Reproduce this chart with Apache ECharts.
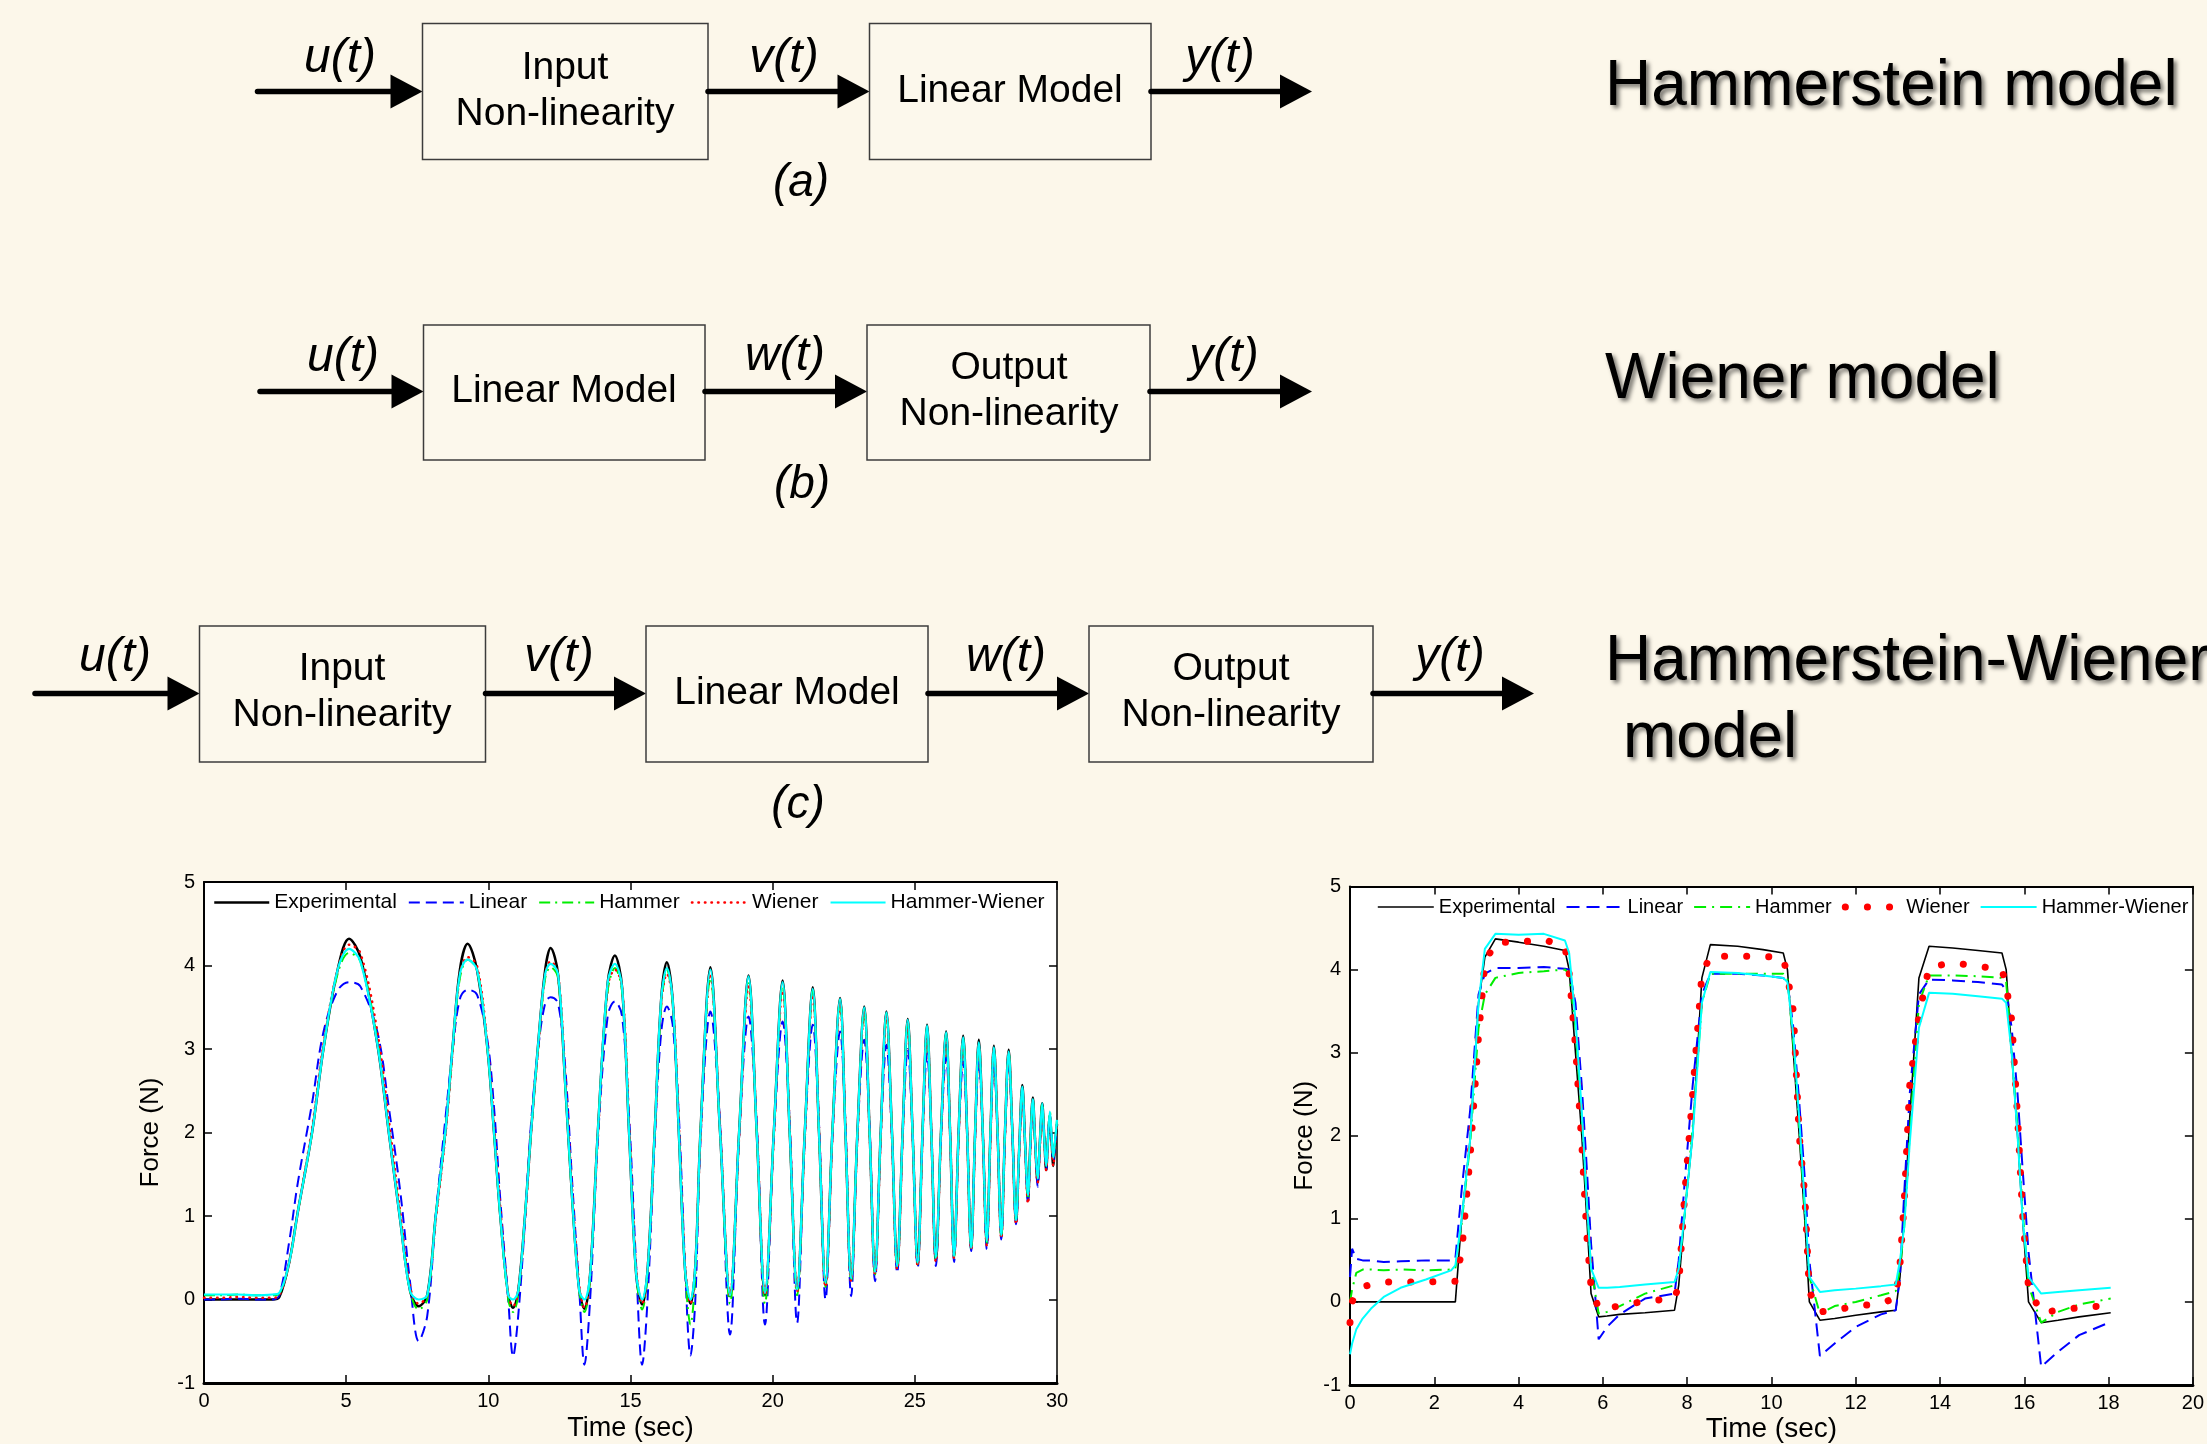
<!DOCTYPE html>
<html><head><meta charset="utf-8">
<script src="https://cdn.jsdelivr.net/npm/echarts@6/dist/echarts.min.js"></script>
<style>html,body{margin:0;padding:0;background:#fcf7ea;}#c{width:2207px;height:1444px;}</style>
</head><body><div id="c"></div>
<script>
// ---------------- DATA ----------------
const NAMES = ['Experimental','Linear','Hammer','Wiener','Hammer-Wiener'];
const L_XTICKS = [0, 30, 5];
const R_XTICKS = [0, 20, 2];
const Y_TICKS = [-1, 5, 1];

// Left chart (chirp response)
const L_T = [0,0.6,1.2,1.8,2.4,2.65,3.0,3.3,3.8,4.2,
  4.7,5.1,5.5,6.1,6.5,6.9,7.25,7.55,7.85,8.15,
  8.5,8.75,9.0,9.27,9.6,9.97,10.2,10.42,10.7,10.87,
  11.05,11.3,11.5,11.75,12.0,12.19,12.45,12.7,12.95,13.2,
  13.38,13.58,13.85,14.2,14.45,14.7,14.95,15.2,15.41,15.6,
  15.85,16.08,16.28,16.48,16.7,16.92,17.11,17.28,17.46,17.81,
  18.15,18.5,18.82,19.15,19.44,19.73,20.04,20.35,20.6,20.86,
  21.13,21.41,21.63,21.86,22.1,22.37,22.56,22.76,22.98,23.22,
  23.41,23.6,23.8,24.0,24.19,24.38,24.57,24.75,24.92,25.1,
  25.27,25.43,25.58,25.74,25.92,26.1,26.24,26.38,26.54,26.7,
  26.84,26.98,27.12,27.25,27.39,27.53,27.66,27.78,27.91,28.04,
  28.17,28.3,28.43,28.56,28.67,28.78,28.88,28.98,29.06,29.15,
  29.23,29.32,29.4,29.48,29.55,29.62,29.68,29.75,29.81,29.87,29.93,30];
const L_EXP = [0,0,0,0,0,0.03,0.45,1.05,2.0,3.0,
  3.95,4.32,4.1,3.05,2.0,0.95,0.1,-0.08,0.05,1.0,
  2.05,3.05,3.95,4.26,3.95,3.0,2.0,1.0,0.05,-0.1,
  0.1,1.05,2.0,3.05,3.95,4.21,3.9,2.6,1.2,0.1,
  -0.11,0.3,2.0,3.8,4.12,3.75,2.0,0.3,-0.06,0.35,
  2.0,3.6,4.04,3.6,2.0,0.35,-0.05,0.4,2.0,3.98,
  2.0,0.04,2.0,3.88,2.0,0.05,2.0,3.82,2.0,0.12,
  2.0,3.74,2.0,0.18,2.0,3.61,2.0,0.24,2.0,3.51,
  2.0,0.31,2.0,3.45,2.05,0.38,2.0,3.36,2.0,0.42,
  2.0,3.29,2.0,0.46,2.0,3.21,2.0,0.51,2.0,3.16,
  2.0,0.6,2.0,3.11,2.0,0.67,2.0,3.04,2.0,0.75,
  2.0,2.99,2.0,0.92,1.8,2.57,1.85,1.2,1.85,2.42,
  1.9,1.4,1.9,2.35,1.95,1.55,1.9,2.2,1.9,1.6,1.85,2.1];
const L_LIN = [0,0,0.01,0,0,0.05,0.7,1.4,2.35,3.2,
  3.7,3.8,3.75,3.2,2.3,1.3,0.2,-0.5,-0.2,1.0,
  2.2,3.0,3.6,3.71,3.65,3.1,2.3,1.2,0.0,-0.68,
  -0.2,1.0,2.1,3.0,3.55,3.62,3.55,2.8,1.4,0.1,
  -0.78,0.0,1.9,3.4,3.57,3.4,2.2,0.4,-0.78,0.0,
  1.9,3.2,3.51,3.3,2.2,0.4,-0.67,0.0,1.9,3.45,
  2.1,-0.42,1.95,3.39,2.1,-0.3,1.95,3.33,2.1,-0.28,
  1.95,3.29,2.1,0.0,1.95,3.21,2.1,0.04,1.95,3.11,
  2.05,0.22,1.95,3.05,2.0,0.32,1.95,3.0,2.0,0.38,
  1.95,2.95,2.0,0.4,1.95,2.9,2.0,0.45,1.95,2.85,
  2.0,0.58,1.95,2.85,2.0,0.6,1.95,2.85,2.0,0.72,
  1.95,2.85,2.0,0.9,1.75,2.5,1.85,1.15,1.8,2.35,
  1.9,1.35,1.85,2.3,1.95,1.55,1.9,2.2,1.9,1.65,1.85,2.1];
const L_HAM = [0.05,0.05,0.06,0.05,0.05,0.07,0.45,1.05,2.0,3.0,
  3.9,4.15,4.05,3.1,2.05,1.0,0.1,-0.12,0.0,1.0,
  2.05,3.0,3.85,4.07,3.95,3.0,2.0,1.0,0.0,-0.15,
  0.05,1.05,2.0,3.0,3.85,3.98,3.85,2.6,1.2,0.1,
  -0.15,0.25,2.0,3.7,3.97,3.7,2.05,0.3,-0.12,0.3,
  2.0,3.5,3.95,3.55,2.05,0.35,-0.3,0.3,2.0,3.85,
  2.0,-0.05,2.0,3.8,2.0,-0.05,2.0,3.75,2.0,0.05,
  2.0,3.7,2.0,0.15,2.0,3.58,2.0,0.22,2.0,3.48,
  2.0,0.3,2.0,3.42,2.05,0.37,2.0,3.33,2.0,0.42,
  2.0,3.25,2.0,0.47,2.0,3.18,2.0,0.5,2.0,3.12,
  2.0,0.6,2.0,3.05,2.0,0.68,2.0,3.0,2.0,0.75,
  2.0,2.95,2.0,0.95,1.8,2.5,1.85,1.2,1.85,2.38,
  1.9,1.45,1.9,2.35,1.95,1.6,1.9,2.25,1.95,1.7,1.9,2.15];
const L_WIE = [0.02,0.02,0.03,0.02,0.02,0.05,0.45,1.05,2.05,3.05,
  3.95,4.25,4.15,3.2,2.15,1.05,0.15,-0.05,0.05,0.95,
  2.0,3.0,3.9,4.1,4.0,3.05,2.1,1.1,0.05,-0.08,
  0.1,1.0,2.0,3.0,3.9,4.05,3.9,2.7,1.3,0.15,
  -0.1,0.3,1.95,3.75,3.95,3.75,2.1,0.35,-0.05,0.35,
  1.95,3.55,3.9,3.6,2.1,0.4,-0.05,0.4,1.95,3.9,
  2.05,0.05,1.95,3.75,2.05,0.05,1.95,3.7,2.05,0.1,
  1.95,3.65,2.05,0.15,1.95,3.55,2.05,0.22,1.95,3.45,
  2.0,0.3,1.95,3.4,2.0,0.36,1.95,3.3,2.0,0.4,
  1.95,3.22,2.0,0.45,1.95,3.15,2.0,0.5,1.95,3.1,
  2.0,0.6,1.95,3.05,2.0,0.65,1.95,3.0,2.0,0.73,
  1.95,2.95,2.0,0.9,1.75,2.5,1.85,1.15,1.8,2.38,
  1.9,1.4,1.85,2.3,1.95,1.55,1.9,2.2,1.9,1.6,1.85,2.1];
const L_HW = [0.06,0.06,0.06,0.05,0.06,0.08,0.45,1.05,2.0,3.0,
  3.95,4.2,4.05,3.05,2.0,0.95,0.1,0.0,0.05,1.0,
  2.05,3.05,3.9,4.07,3.95,3.0,2.0,1.0,0.05,0.0,
  0.1,1.05,2.0,3.05,3.9,4.02,3.9,2.6,1.2,0.1,
  0.0,0.3,2.0,3.8,4.02,3.75,2.0,0.3,0.0,0.35,
  2.0,3.6,3.97,3.6,2.0,0.35,0.0,0.4,2.0,3.95,
  2.0,0.05,2.0,3.87,2.0,0.08,2.0,3.8,2.0,0.12,
  2.0,3.72,2.0,0.2,2.0,3.6,2.0,0.25,2.0,3.5,
  2.0,0.33,2.0,3.44,2.05,0.4,2.0,3.35,2.0,0.44,
  2.0,3.28,2.0,0.5,2.0,3.2,2.0,0.52,2.0,3.14,
  2.0,0.62,2.0,3.08,2.0,0.7,2.0,3.02,2.0,0.77,
  2.0,2.97,2.0,0.95,1.8,2.55,1.85,1.25,1.85,2.4,
  1.9,1.45,1.9,2.35,1.95,1.6,1.9,2.25,1.95,1.7,1.9,2.15];

// Right chart (pulse response)
const R_T = [0,0.05,0.15,0.3,0.5,0.8,1.2,1.8,2.4,2.5,
  2.65,2.85,3.05,3.2,3.45,4.0,4.6,5.1,5.2,5.35,
  5.5,5.62,5.72,5.9,6.1,6.4,7.0,7.7,7.8,7.95,
  8.13,8.35,8.55,9.2,9.8,10.28,10.38,10.52,10.66,10.79,
  10.9,11.15,11.5,12.0,12.6,12.95,13.05,13.15,13.28,13.5,
  13.74,14.3,14.9,15.47,15.57,15.7,15.84,15.96,16.1,16.4,
  16.8,17.3,18.05];
const R_EXP = [0,0,0,0,0,0,0,0,0,0,
  1.0,1.95,3.6,4.15,4.37,4.33,4.28,4.23,4.0,3.0,
  2.0,1.0,0.1,-0.18,-0.17,-0.15,-0.13,-0.1,0.2,1.1,
  2.0,3.9,4.3,4.28,4.24,4.2,4.0,3.0,2.0,1.0,
  0.0,-0.22,-0.2,-0.16,-0.12,-0.1,0.3,1.0,2.2,3.9,
  4.28,4.26,4.23,4.2,4.0,3.0,2.0,1.0,0.0,-0.25,
  -0.22,-0.18,-0.13];
const R_LIN = [0.3,0.64,0.52,0.5,0.5,0.48,0.49,0.5,0.5,0.52,
  1.35,2.3,3.7,3.95,4.02,4.02,4.03,4.01,4.0,3.6,
  2.6,1.6,0.7,-0.45,-0.3,-0.15,0.04,0.1,0.5,1.5,
  2.6,3.7,3.95,3.95,3.93,3.9,3.85,3.3,2.4,1.5,
  0.5,-0.65,-0.5,-0.3,-0.15,-0.1,0.3,1.3,2.5,3.7,
  3.88,3.87,3.85,3.82,3.75,3.3,2.5,1.6,0.6,-0.78,
  -0.6,-0.4,-0.24];
const R_HAM = [0.0,0.15,0.35,0.39,0.39,0.38,0.39,0.38,0.39,0.4,
  0.95,1.9,3.3,3.7,3.9,3.96,3.98,4.0,3.95,3.3,
  2.2,1.2,0.4,-0.14,-0.12,-0.05,0.1,0.2,0.4,1.1,
  2.1,3.6,3.95,3.95,3.95,3.95,3.9,3.1,2.1,1.1,
  0.3,-0.14,-0.05,0.0,0.08,0.13,0.4,0.9,2.0,3.6,
  3.93,3.93,3.92,3.9,3.85,3.0,2.1,1.1,0.2,-0.25,
  -0.12,-0.03,0.04];
const R_WIE = [-0.25,0.0,0.12,0.18,0.21,0.24,0.24,0.24,0.25,0.25,
  0.6,1.75,3.2,4.08,4.33,4.33,4.36,4.28,3.96,3.08,
  1.9,0.8,0.18,-0.08,-0.07,-0.05,0.01,0.04,0.2,1.35,
  2.5,3.95,4.16,4.16,4.16,4.14,3.92,3.5,2.0,1.3,
  0.12,-0.12,-0.1,-0.05,-0.02,0.05,0.45,1.2,2.6,3.45,
  4.03,4.08,4.04,4.0,3.8,3.4,2.23,1.05,0.17,-0.13,
  -0.1,-0.07,-0.04];
const R_HW = [-0.63,-0.5,-0.33,-0.2,-0.08,0.06,0.17,0.27,0.38,0.44,
  1.0,1.95,3.6,4.25,4.43,4.42,4.43,4.35,4.2,3.4,
  2.3,1.2,0.4,0.17,0.17,0.18,0.21,0.24,0.4,1.1,
  2.0,3.6,3.97,3.96,3.93,3.9,3.85,3.2,2.2,1.2,
  0.3,0.12,0.14,0.16,0.19,0.21,0.5,0.9,1.9,3.3,
  3.72,3.71,3.68,3.65,3.6,3.0,2.0,1.0,0.3,0.1,
  0.12,0.14,0.17];

// ---------------- RENDER ----------------
const FONT = "'Liberation Sans', Arial, Helvetica, sans-serif";
const chart = echarts.init(document.getElementById('c'), null, {renderer: 'canvas', width: 2207, height: 1444});

const els = [];
function box(x1, x2, y1, y2) {
  els.push({type: 'rect', shape: {x: x1, y: y1, width: x2 - x1, height: y2 - y1},
    style: {fill: 'rgba(255,255,255,0.12)', stroke: '#3c3c3c', lineWidth: 1.5}});
}
function arrow(x1, x2, y) {
  els.push({type: 'line', shape: {x1: x1, y1: y, x2: x2 - 26, y2: y},
    style: {stroke: '#000', lineWidth: 5.5, lineCap: 'round'}});
  els.push({type: 'polygon', shape: {points: [[x2 - 32, y - 17], [x2, y], [x2 - 32, y + 17]]},
    style: {fill: '#000'}});
}
function txt(s, x, y, font, extra) {
  els.push({type: 'text', x: x, y: y,
    style: Object.assign({text: s, font: font, fill: '#000', align: 'center', verticalAlign: 'middle'}, extra || {})});
}
const BF = '39px ' + FONT;
const IF = 'italic 48px ' + FONT;
// (a) Hammerstein
arrow(257.5, 422.5, 91.5); box(422.5, 708, 23.5, 159.5);
arrow(708, 869.5, 91.5); box(869.5, 1151, 23.5, 159.5);
arrow(1151, 1312, 91.5);
txt('u(t)', 340, 59, IF); txt('v(t)', 784, 59, IF); txt('y(t)', 1220, 59, IF);
txt('Input', 565, 68, BF); txt('Non-linearity', 565, 114, BF);
txt('Linear Model', 1010, 91, BF);
txt('(a)', 801, 183, 'italic 46px ' + FONT);
// (b) Wiener
arrow(260, 423.5, 391.5); box(423.5, 705, 325, 460);
arrow(705, 867, 391.5); box(867, 1150, 325, 460);
arrow(1150, 1312, 391.5);
txt('u(t)', 343, 358, IF); txt('w(t)', 785, 357, IF); txt('y(t)', 1224, 358, IF);
txt('Linear Model', 564, 391, BF);
txt('Output', 1009, 368, BF); txt('Non-linearity', 1009, 414, BF);
txt('(b)', 802, 485, 'italic 46px ' + FONT);
// (c) Hammerstein-Wiener
arrow(35, 199.5, 693.5); box(199.5, 485.5, 626, 762);
arrow(485.5, 646, 693.5); box(646, 928, 626, 762);
arrow(928, 1089, 693.5); box(1089, 1373, 626, 762);
arrow(1373, 1534, 693.5);
txt('u(t)', 115, 658, IF); txt('v(t)', 559, 658, IF); txt('w(t)', 1006, 658, IF); txt('y(t)', 1450, 658, IF);
txt('Input', 342, 669, BF); txt('Non-linearity', 342, 715, BF);
txt('Linear Model', 787, 693, BF);
txt('Output', 1231, 669, BF); txt('Non-linearity', 1231, 715, BF);
txt('(c)', 798, 805, 'italic 46px ' + FONT);
// titles
const TS = {align: 'left', textShadowColor: 'rgba(0,0,0,0.55)', textShadowBlur: 4, textShadowOffsetX: 3, textShadowOffsetY: 3};
txt('Hammerstein model', 1605, 87, '64px ' + FONT, TS);
txt('Wiener model', 1605, 380, '64px ' + FONT, TS);
txt('Hammerstein-Wiener', 1605, 662, '64px ' + FONT, TS);
txt('model', 1623, 739, '64px ' + FONT, TS);

function pairs(T, V) { return T.map((t, i) => [t, V[i]]); }

const L_STYLE = [
  {color: '#000000', width: 2.5, type: 'solid'},
  {color: '#0000ff', width: 2, type: [11, 6]},
  {color: '#00ee00', width: 2, type: [11, 5, 2, 5]},
  {color: '#ff0000', width: 2.5, type: [0.5, 6], cap: 'round'},
  {color: '#00ffff', width: 2.2, type: 'solid'}
];
const R_STYLE = [
  {color: '#000000', width: 1.6, type: 'solid'},
  {color: '#0000ff', width: 2, type: [13, 7]},
  {color: '#00ee00', width: 2, type: [12, 6, 2, 6]},
  {color: '#ff0000', width: 7, type: [0.1, 22], cap: 'round'},
  {color: '#00ffff', width: 2, type: 'solid'}
];
const L_VALS = [L_EXP, L_LIN, L_HAM, L_WIE, L_HW];
const R_VALS = [R_EXP, R_LIN, R_HAM, R_WIE, R_HW];

const series = [];
NAMES.forEach((n, i) => {
  series.push({type: 'line', name: n, xAxisIndex: 0, yAxisIndex: 0, data: pairs(L_T, L_VALS[i]),
    symbol: 'none', showSymbol: false, smooth: 0.35, lineStyle: L_STYLE[i], itemStyle: {color: L_STYLE[i].color},
    animation: false, silent: true, z: 3 + i});
});
NAMES.forEach((n, i) => {
  series.push({type: 'line', name: n + ' ', xAxisIndex: 2, yAxisIndex: 2, data: pairs(R_T, R_VALS[i]),
    symbol: 'none', showSymbol: false, lineStyle: R_STYLE[i], itemStyle: {color: R_STYLE[i].color},
    animation: false, silent: true, z: 3 + i});
});

function xAx(grid, pos, rng, labels, name, gap, nameSize, lw) {
  return {type: 'value', gridIndex: grid, position: pos, min: rng[0], max: rng[1], interval: rng[2],
    axisLine: {show: true, onZero: false, lineStyle: {color: '#000', width: lw}},
    axisTick: {show: true, inside: true, length: 8, lineStyle: {color: '#000', width: 1.5}},
    axisLabel: {show: labels, color: '#000', fontSize: 20, fontFamily: FONT, margin: 8},
    splitLine: {show: false},
    name: name, nameLocation: 'middle', nameGap: gap,
    nameTextStyle: {color: '#000', fontSize: nameSize, fontFamily: FONT}};
}
function yAx(grid, pos, labels, name, gap, lw) {
  return {type: 'value', gridIndex: grid, position: pos, min: Y_TICKS[0], max: Y_TICKS[1], interval: Y_TICKS[2],
    axisLine: {show: true, onZero: false, lineStyle: {color: '#000', width: lw}},
    axisTick: {show: true, inside: true, length: 8, lineStyle: {color: '#000', width: 1.5}},
    axisLabel: {show: labels, color: '#000', fontSize: 20, fontFamily: FONT, margin: 9},
    splitLine: {show: false},
    name: name, nameLocation: 'middle', nameGap: gap,
    nameTextStyle: {color: '#000', fontSize: 26, fontFamily: FONT}};
}

function legend(left, top, suffix, iw, gap, fs) {
  return {left: left, top: top, orient: 'horizontal', itemWidth: iw, itemHeight: 14, itemGap: gap,
    data: NAMES.map(n => ({name: n + suffix})), formatter: s => s.trim(),
    itemStyle: {opacity: 0, borderWidth: 0},
    lineStyle: {width: 'inherit'},
    textStyle: {color: '#000', fontSize: fs, fontFamily: FONT},
    backgroundColor: 'transparent', selectedMode: false};
}

chart.setOption({
  backgroundColor: '#fcf7ea',
  animation: false,
  graphic: {elements: els},
  grid: [
    {left: 204, top: 882, width: 853, height: 501, show: true, backgroundColor: '#ffffff', borderWidth: 0},
    {left: 1350, top: 886.5, width: 854, height: 510, show: true, backgroundColor: '#ffffff', borderWidth: 0}
  ],
  legend: [legend(208, 887, '', 55, 11, 21), legend(1372, 892, ' ', 56, 10, 20)],
  xAxis: [
    xAx(0, 'bottom', L_XTICKS, true, 'Time (sec)', 32, 27, 3),
    xAx(0, 'top', L_XTICKS, false, '', 0, 12, 2),
    xAx(1, 'bottom', R_XTICKS, true, 'Time (sec)', 30, 28, 3),
    xAx(1, 'top', R_XTICKS, false, '', 0, 12, 2)
  ],
  yAxis: [
    yAx(0, 'left', true, 'Force (N)', 40, 2),
    yAx(0, 'right', false, '', 0, 1.5),
    yAx(1, 'left', true, 'Force (N)', 32, 2),
    yAx(1, 'right', false, '', 0, 1.5)
  ],
  series: series
});
</script>
</body></html>
